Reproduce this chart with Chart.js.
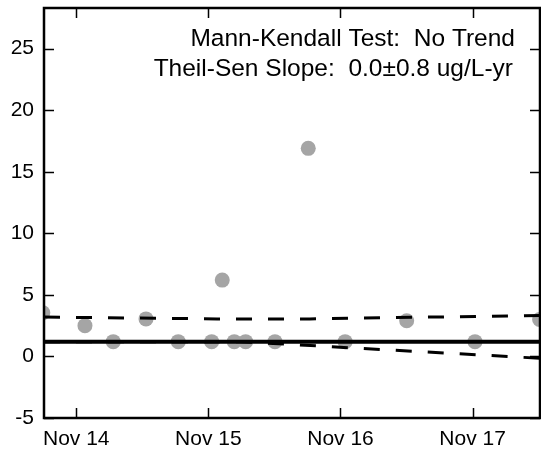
<!DOCTYPE html>
<html>
<head>
<meta charset="utf-8">
<script src="https://cdn.jsdelivr.net/npm/chart.js@4"></script>
<style>
  html, body { margin: 0; padding: 0; background: #fff; }
  #wrap { width: 541px; height: 451px; }
</style>
</head>
<body>
<div id="wrap"><canvas id="trendChart"></canvas></div>
<script>
// sample dates as decimal years, concentrations in ug/L
const sampleDates = [2014.58, 2014.899, 2015.113, 2015.361, 2015.605, 2015.858, 2015.938, 2016.029, 2016.115, 2016.337, 2016.589, 2016.868, 2017.334, 2017.851, 2018.34];
const sampleValues = [3.55, 2.5, 1.2, 3.05, 1.2, 1.2, 6.2, 1.2, 1.2, 1.2, 16.9, 1.2, 2.9, 1.2, 3.0];

const medianX = [2014.589, 2018.343];
const medianY = [1.2, 1.2];
const upperX = [2014.589, 2015.9, 2016.6, 2018.343];
const upperY = [3.2, 3.05, 3.05, 3.33];
const lowerX = [2014.589, 2016.072, 2018.343];
const lowerY = [1.2, 1.2, -0.15];

const xTickValues = [2014.833, 2015.833, 2016.833, 2017.833];
const xTickLabels = ["Nov 14", "Nov 15", "Nov 16", "Nov 17"];
const yTickValues = [-5, 0, 5, 10, 15, 20, 25];

const annotation = ["Mann-Kendall Test:  No Trend", "Theil-Sen Slope:  0.0\u00b10.8 ug/L-yr"];

const pairs = (xs, ys) => xs.map((x, i) => ({ x: x, y: ys[i] }));

// frame with inward ticks on all four sides + the test text
const framePlugin = {
  id: "frame",
  afterDatasetsDraw(chart) {
    const ctx = chart.ctx;
    const a = chart.chartArea;
    const xs = chart.scales.x, ys = chart.scales.y;
    ctx.save();
    ctx.strokeStyle = "#000";
    ctx.lineWidth = 1.5;
    ctx.beginPath();
    xTickValues.forEach(v => {
      const px = Math.round(xs.getPixelForValue(v)) + 0.5;
      ctx.moveTo(px, a.bottom); ctx.lineTo(px, a.bottom - 10);
      ctx.moveTo(px, a.top); ctx.lineTo(px, a.top + 10);
    });
    yTickValues.forEach(v => {
      const py = Math.round(ys.getPixelForValue(v)) + 0.5;
      ctx.moveTo(a.left, py); ctx.lineTo(a.left + 10, py);
      ctx.moveTo(a.right, py); ctx.lineTo(a.right - 10, py);
    });
    ctx.stroke();
    ctx.lineWidth = 2.5;
    ctx.strokeRect(a.left, a.top, a.right - a.left, a.bottom - a.top);

    ctx.fillStyle = "#000";
    ctx.font = "24.5px 'Liberation Sans', Arial, sans-serif";
    ctx.textAlign = "right";
    ctx.textBaseline = "alphabetic";
    ctx.fillText(annotation[0], 515, 46);
    ctx.fillText(annotation[1], 513, 76);
    ctx.restore();
  }
};

new Chart(document.getElementById("trendChart"), {
  type: "scatter",
  data: {
    datasets: [
      {
        data: pairs(medianX, medianY),
        showLine: true,
        borderColor: "#000",
        borderWidth: 4,
        pointRadius: 0,
      },
      {
        data: pairs(upperX, upperY),
        showLine: true,
        borderColor: "#000",
        borderWidth: 3,
        borderDash: [16, 16],
        pointRadius: 0,
      },
      {
        data: pairs(lowerX, lowerY),
        showLine: true,
        borderColor: "#000",
        borderWidth: 3,
        borderDash: [16, 16],
        pointRadius: 0,
      },
      {
        data: pairs(sampleDates, sampleValues),
        backgroundColor: "rgb(165,165,165)",
        borderWidth: 0,
        pointRadius: 7.5,
        clip: 0,
      },
    ],
  },
  options: {
    responsive: true,
    maintainAspectRatio: false,
    animation: false,
    layout: { autoPadding: false, padding: { top: 8, right: 1, left: 0, bottom: 0 } },
    plugins: { legend: { display: false }, tooltip: { enabled: false } },
    scales: {
      x: {
        type: "linear",
        min: 2014.589,
        max: 2018.343,
        grid: { display: false, drawTicks: false },
        border: { display: false },
        afterBuildTicks: s => { s.ticks = xTickValues.map(v => ({ value: v })); },
        afterFit: s => { s.height = 33; s.paddingLeft = 0; s.paddingRight = 0; },
        ticks: {
          padding: 9,
          color: "#000",
          font: { family: "'Liberation Sans', Arial, sans-serif", size: 21 },
          maxRotation: 0,
          callback: v => xTickLabels[xTickValues.indexOf(v)],
        },
      },
      y: {
        min: -5,
        max: 28.3,
        grid: { display: false, drawTicks: false },
        border: { display: false },
        afterBuildTicks: s => { s.ticks = yTickValues.map(v => ({ value: v })); },
        afterFit: s => { s.width = 44; s.paddingTop = 0; s.paddingBottom = 0; },
        ticks: {
          padding: 10,
          color: "#000",
          font: { family: "'Liberation Sans', Arial, sans-serif", size: 21 },
        },
      },
    },
  },
  plugins: [framePlugin],
});
</script>
</body>
</html>
